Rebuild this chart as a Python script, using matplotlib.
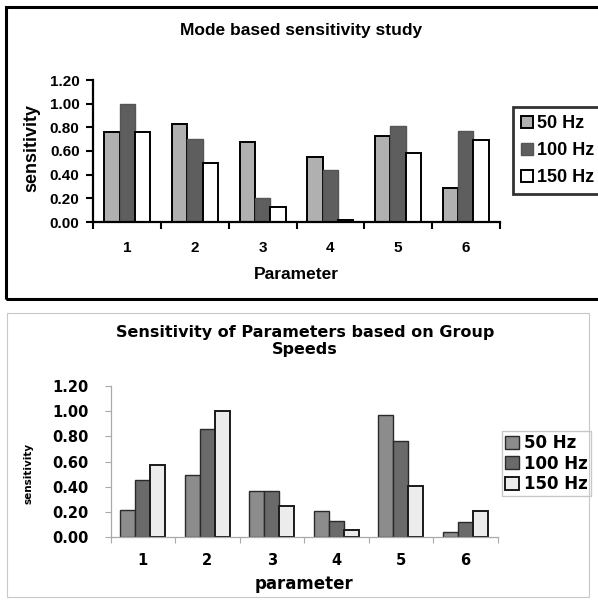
import matplotlib
matplotlib.use("Agg")
import matplotlib.pyplot as plt
from matplotlib.patches import Rectangle
import numpy as np

plt.rcParams['font.family'] = ['Liberation Sans', 'DejaVu Sans']
plt.rcParams['font.weight'] = 'bold'

params = ['1', '2', '3', '4', '5', '6']
series = ['50 Hz', '100 Hz', '150 Hz']
yticks = [0.0, 0.2, 0.4, 0.6, 0.8, 1.0, 1.2]

# mode based study
mode_50 = [0.76, 0.83, 0.68, 0.55, 0.73, 0.29]
mode_100 = [1.00, 0.70, 0.20, 0.44, 0.81, 0.77]
mode_150 = [0.76, 0.50, 0.13, 0.02, 0.58, 0.69]

# group speed study
grp_50 = [0.22, 0.49, 0.37, 0.21, 0.97, 0.04]
grp_100 = [0.45, 0.86, 0.37, 0.13, 0.76, 0.12]
grp_150 = [0.57, 1.00, 0.25, 0.06, 0.41, 0.21]

W, H = 598, 600
fig = plt.figure(figsize=(W / 100, H / 100), dpi=100)

def px(l, t, r, b):
    return [l / W, 1 - b / H, (r - l) / W, (b - t) / H]

# panel frames
fig.patches.append(Rectangle((6 / W, 1 - 299 / H), 700 / W, 292 / H, transform=fig.transFigure,
                             fill=False, ec='black', lw=2.2))
fig.patches.append(Rectangle((7 / W, 1 - 597 / H), 582 / W, 284 / H, transform=fig.transFigure,
                             fill=False, ec='#c8c8c8', lw=0.8))

x = np.arange(len(params))
top_font = 'Liberation Sans'
bot_font = 'DejaVu Sans'

# ---- top chart ----
ax1 = fig.add_axes(px(93.4, 80, 499.6, 222))
bw = 0.227
ax1.bar(x - bw, mode_50, bw, color='#b0b0b0', ec='black', lw=1.4, label=series[0])
ax1.bar(x, mode_100, bw, color='#5e5e5e', ec='#555555', lw=1.0, label=series[1])
ax1.bar(x + bw, mode_150, bw, color='white', ec='black', lw=1.4, label=series[2])
ax1.set_xlim(-0.5, 5.5)
ax1.set_ylim(0, 1.2)
ax1.set_yticks(yticks)
ax1.set_yticklabels(['%.2f' % v for v in yticks], fontsize=11, fontweight='bold', family=top_font)
ax1.set_xticks(x)
ax1.set_xticklabels(params, fontsize=11, fontweight='bold', family=top_font)
ax1.set_xticks(np.arange(-0.5, 6.0, 1.0), minor=True)
ax1.tick_params(axis='x', which='major', length=0, pad=14)
ax1.tick_params(axis='x', which='minor', length=5, width=1.5, direction='out')
ax1.tick_params(axis='y', length=5, width=1.5, direction='out', pad=5)
for s in ['top', 'right']:
    ax1.spines[s].set_visible(False)
for s in ['left', 'bottom']:
    ax1.spines[s].set_linewidth(1.6)
ax1.set_ylabel('sensitivity', fontsize=13, fontweight='bold', family=top_font)
ax1.yaxis.set_label_coords(-0.13, 0.52)
ax1.set_xlabel('Parameter', fontsize=12.5, fontweight='bold', family=top_font, labelpad=8)
fig.text(301 / W, 1 - 31 / H, 'Mode based sensitivity study', ha='center', va='center',
         fontsize=12.5, fontweight='bold', family=top_font)
leg1 = ax1.legend(loc='upper left', bbox_to_anchor=(513 / W, 1 - 107 / H),
                  bbox_transform=fig.transFigure, borderaxespad=0, fancybox=False,
                  edgecolor='black', prop={'family': top_font, 'weight': 'bold', 'size': 13},
                  handlelength=0.65, handleheight=0.65, handletextpad=0.25,
                  labelspacing=0.55, borderpad=0.45)
leg1.get_frame().set_linewidth(2)

# ---- bottom chart ----
ax2 = fig.add_axes(px(110.6, 385.7, 497.7, 537.3))
bw = 0.233
ax2.bar(x - bw, grp_50, bw, color='#8c8c8c', ec='#2a2a2a', lw=1.0, label=series[0])
ax2.bar(x, grp_100, bw, color='#6a6a6a', ec='#2a2a2a', lw=1.0, label=series[1])
ax2.bar(x + bw, grp_150, bw, color='#ececec', ec='#1a1a1a', lw=1.4, label=series[2])
ax2.set_xlim(-0.5, 5.5)
ax2.set_ylim(0, 1.2)
ax2.set_yticks(yticks)
ax2.set_yticklabels(['%.2f' % v for v in yticks], fontsize=10.5, fontweight='bold', family=bot_font)
ax2.set_xticks(x)
ax2.set_xticklabels(params, fontsize=10.5, fontweight='bold', family=bot_font)
ax2.set_xticks(np.arange(-0.5, 6.0, 1.0), minor=True)
ax2.tick_params(axis='x', which='major', length=0, pad=11)
ax2.tick_params(axis='x', which='minor', length=4, width=0.8, color='#aaaaaa', direction='out')
ax2.tick_params(axis='y', length=4, width=0.8, color='#aaaaaa', direction='out', pad=12)
for s in ['top', 'right']:
    ax2.spines[s].set_visible(False)
for s in ['left', 'bottom']:
    ax2.spines[s].set_color('#aaaaaa')
    ax2.spines[s].set_linewidth(0.9)
ax2.set_ylabel('sensitivity', fontsize=7.5, fontweight='bold', family=bot_font)
ax2.yaxis.set_label_coords(-0.2, 0.42)
ax2.set_xlabel('parameter', fontsize=12, fontweight='bold', family=bot_font, labelpad=5)
fig.text(305 / W, 1 - 341 / H, 'Sensitivity of Parameters based on Group\nSpeeds', ha='center',
         va='center', fontsize=11.5, fontweight='bold', family=bot_font, linespacing=1.1)
leg2 = ax2.legend(loc='upper left', bbox_to_anchor=(502 / W, 1 - 430.7 / H),
                  bbox_transform=fig.transFigure, borderaxespad=0, fancybox=False,
                  edgecolor='#bbbbbb', prop={'family': bot_font, 'weight': 'bold', 'size': 12},
                  handlelength=0.8, handleheight=0.8, handletextpad=0.3,
                  labelspacing=0.15, borderpad=0.2)

fig.savefig('out.png', dpi=100)
